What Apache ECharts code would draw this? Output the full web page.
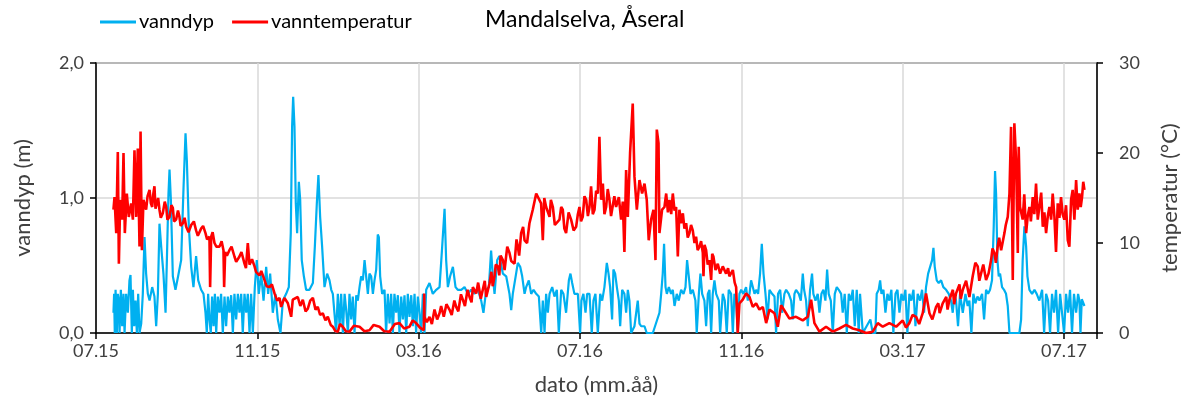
<!DOCTYPE html>
<html>
<head>
<meta charset="utf-8">
<script src="https://cdn.jsdelivr.net/npm/echarts@6/dist/echarts.min.js"></script>
<style>
  html, body { margin: 0; padding: 0; background: #fff; }
  #main { width: 1189px; height: 407px; }
</style>
</head>
<body>
<div id="main"></div>
<script>
// x = days since 01.07.2015
var tickLabels = ['07.15', '11.15', '03.16', '07.16', '11.16', '03.17', '07.17'];
var tickStep = 122;

// vanndyp (m)
var depthData = [
  [13.2,0.15],[13.7,0.29],[14.2,0],[14.8,0.32],[15.8,0],[16.5,0.29],[17.3,0.24],[17.8,0],[18.8,0.32],[19.8,0.05],
  [20.8,0.29],[21.6,0],[22.8,0.29],[24.1,0.15],[25.3,0.39],[26.1,0.43],[27.1,0],[27.9,0.32],[28.9,0.05],[29.9,0.24],
  [30.9,0],[31.9,0.29],[32.9,0],[34.2,0.07],[35.4,0.29],[36.7,0.71],[37.9,0.44],[39.2,0.29],[40.5,0.24],[42.5,0.34],
  [44.2,0.27],[45.5,0.05],[46.8,0.29],[48.0,0.81],[49.3,0.64],[51.0,0.44],[52.6,0.15],[53.6,0.54],[54.8,1.03],[55.6,1.21],
  [56.6,0.99],[58.1,0.42],[60.1,0.32],[62.1,0.42],[64.4,0.54],[66.2,1.08],[67.7,1.48],[68.7,1.28],[70.2,0.79],[72.0,0.49],
  [73.7,0.34],[75.7,0.57],[77.3,0.39],[79.5,0.32],[81.3,0.29],[82.8,0.15],[83.8,0],[84.8,0.29],[85.8,0.10],[86.8,0],
  [87.8,0.27],[88.9,0.05],[89.9,0.29],[90.9,0],[92.1,0.27],[93.4,0.15],[94.6,0.29],[95.9,0],[97.2,0.27],[98.4,0.05],
  [99.7,0.27],[100.9,0.15],[102.2,0.28],[103.5,0],[104.7,0.29],[106.0,0.10],[107.3,0.29],[108.5,0.15],[109.8,0.29],[111.0,0],
  [112.3,0.29],[113.6,0.15],[114.8,0.29],[116.1,0],[117.3,0.29],[118.6,0],[120.1,0.34],[121.6,0.54],[123.1,0.29],[124.9,0.44],
  [126.7,0.24],[128.7,0.49],[130.2,0.29],[131.7,0.44],[133.7,0.15],[135.7,0.29],[137.5,0.10],[139.5,0],[141.3,0.24],[143.8,0.29],
  [145.8,0.34],[147.3,0.74],[148.3,1.53],[149.1,1.75],[150.1,1.53],[151.1,0.96],[152.1,0.74],[153.4,1.12],[154.4,0.99],[155.6,0.54],
  [157.2,0.42],[158.9,0.32],[161.4,0.32],[164.0,0.37],[165.5,0.64],[167.0,0.96],[168.2,1.17],[169.5,0.86],[171.0,0.64],[172.8,0.34],
  [174.8,0.44],[176.6,0.39],[177.9,0.32],[179.1,0.29],[180.4,0.29],[181.6,0],[182.9,0.29],[184.2,0.05],[185.4,0.29],[186.7,0],
  [188.0,0.29],[189.2,0.17],[190.5,0],[191.7,0.29],[193.0,0.10],[194.2,0.27],[195.5,0],[196.8,0.28],[198.0,0.24],[199.3,0.34],
  [200.5,0.42],[201.8,0.39],[203.1,0.54],[204.3,0.54],[205.6,0.29],[206.8,0.44],[208.1,0.42],[209.4,0.29],[210.6,0.39],[211.9,0.47],
  [213.1,0.73],[213.9,0.71],[214.9,0.42],[216.4,0.29],[218.2,0.32],[219.4,0],[220.7,0.29],[222.0,0.07],[223.2,0.29],[224.5,0],
  [225.7,0.29],[227.0,0.15],[228.3,0.28],[229.5,0],[230.8,0.27],[232.1,0.10],[233.3,0.28],[234.6,0],[235.8,0.29],[237.1,0.12],
  [238.4,0.28],[239.6,0.05],[240.9,0.29],[242.1,0],[243.4,0.27],[244.7,0.15],[245.9,0],[247.2,0.29],[248.4,0],[249.7,0.32],
  [252.2,0.37],[254.7,0.29],[257.3,0.32],[259.8,0.34],[261.8,0.64],[263.6,0.92],[264.8,0.54],[266.1,0.34],[267.8,0.42],[269.9,0.49],
  [271.9,0.34],[273.6,0.32],[276.2,0.32],[278.7,0.34],[281.2,0.29],[283.7,0.32],[286.2,0.29],[288.8,0.32],[291.3,0.24],[293.0,0.15],
  [295.1,0.32],[297.1,0.34],[298.8,0.61],[300.1,0.42],[301.4,0.29],[303.4,0.54],[305.1,0.57],[307.7,0.44],[310.2,0.42],[312.7,0.29],
  [314.0,0.17],[315.2,0.29],[317.7,0.44],[319.0,0.52],[320.8,0.49],[322.3,0.42],[324.1,0.29],[325.3,0.34],[327.3,0.39],[329.1,0.29],
  [330.9,0.32],[332.9,0.29],[334.9,0.27],[336.7,0],[337.9,0.24],[339.2,0],[340.4,0.29],[341.7,0.15],[343.0,0.29],[345.0,0.34],
  [346.7,0.27],[348.5,0.32],[350.0,0],[351.8,0.32],[353.5,0.29],[355.5,0.15],[357.6,0.39],[358.8,0.44],[360.1,0.37],[361.8,0.29],
  [364.4,0.29],[366.1,0],[367.1,0.24],[368.6,0.29],[370.2,0.15],[371.4,0.29],[373.2,0.29],[374.9,0],[376.2,0.24],[377.7,0.29],
  [379.5,0],[381.3,0.29],[382.8,0.24],[384.5,0.34],[386.3,0.52],[387.6,0.44],[388.8,0.34],[390.3,0.10],[391.3,0.47],[392.6,0.44],
  [393.9,0.34],[395.4,0.24],[396.4,0.05],[397.9,0.32],[399.6,0.29],[400.9,0.15],[402.2,0.32],[403.4,0.24],[404.7,0],[407.2,0.05],
  [409.7,0.24],[411.0,0.07],[412.3,0.05],[414.8,0.05],[416.5,0],[421.1,0],[426.1,0.15],[427.4,0.29],[428.6,0.44],[429.6,0.66],
  [430.7,0.34],[431.7,0.29],[433.2,0.34],[434.9,0.29],[436.2,0.32],[437.5,0.20],[439.2,0.29],[440.7,0.24],[442.5,0.32],[444.3,0.29],
  [445.8,0.34],[447.0,0.54],[448.3,0.42],[449.6,0.29],[451.3,0.32],[453.3,0.24],[454.3,0],[455.9,0.29],[457.1,0.44],[458.4,0.29],
  [460.1,0.24],[461.4,0.05],[462.7,0.29],[463.9,0.32],[465.2,0],[466.4,0.29],[467.7,0.39],[469.0,0.29],[471.0,0.24],[472.0,0],
  [474.0,0.29],[475.5,0.24],[477.0,0],[478.5,0.32],[480.3,0.29],[481.6,0],[482.8,0.29],[484.1,0.24],[485.3,0],[486.6,0.29],
  [487.9,0.32],[489.6,0.29],[491.6,0.34],[492.9,0.24],[494.2,0.29],[495.4,0.39],[496.7,0.34],[498.0,0.29],[499.2,0.32],[500.7,0.29],
  [502.2,0.44],[503.5,0.66],[504.8,0.44],[506.3,0.29],[507.8,0.10],[509.3,0.32],[511.3,0.29],[513.1,0.27],[514.3,0],[515.8,0.29],
  [517.4,0.32],[518.9,0.15],[520.6,0.29],[521.9,0.32],[523.9,0.29],[525.7,0.24],[526.9,0.10],[528.2,0.29],[529.4,0.32],[531.5,0.29],
  [533.0,0.24],[534.5,0.44],[535.5,0.32],[537.0,0.24],[538.3,0.05],[540.0,0.32],[541.5,0.44],[542.5,0.29],[544.1,0.24],[545.8,0.29],
  [547.1,0.15],[548.6,0.29],[550.1,0.32],[551.6,0.24],[552.9,0.47],[554.1,0.29],[555.7,0.24],[557.2,0],[558.7,0.29],[560.2,0.34],
  [561.7,0.32],[563.5,0.29],[564.7,0.15],[566.2,0.29],[567.8,0],[569.3,0.29],[570.8,0.24],[572.3,0.32],[573.8,0.05],[575.3,0.32],
  [576.8,0],[577.8,0.29],[579.9,0],[585.6,0.10],[587.4,0],[589.4,0],[590.4,0.29],[591.9,0.32],[593.0,0.39],[594.0,0.29],
  [595.5,0.32],[597.0,0.15],[598.5,0.29],[600.0,0.24],[601.5,0.32],[603.0,0],[604.6,0.29],[606.1,0.32],[607.6,0.15],[609.1,0.29],
  [610.6,0.24],[612.1,0.32],[613.6,0],[615.1,0.29],[616.6,0.24],[618.2,0.32],[619.7,0.05],[621.4,0.29],[623.2,0.24],[624.7,0.32],
  [626.2,0.15],[627.7,0.34],[629.3,0.44],[630.8,0.44],[632.3,0.54],[633.3,0.63],[634.3,0.49],[635.8,0.39],[637.3,0.37],[639.1,0.39],
  [640.8,0.34],[642.9,0.32],[644.9,0.29],[646.6,0.24],[647.9,0.15],[649.2,0.29],[650.4,0.24],[651.9,0.05],[653.4,0.29],[655.5,0.15],
  [657.5,0.29],[659.2,0.20],[660.5,0.24],[662.0,0],[663.5,0.29],[665.0,0.22],[666.6,0.27],[668.1,0.24],[670.1,0.29],[671.6,0.10],
  [673.1,0.32],[674.6,0.29],[676.1,0.32],[677.6,0.39],[678.9,0.79],[679.9,1.20],[680.7,1.03],[681.7,0.54],[682.7,0.42],[683.7,0.44],
  [685.2,0.34],[686.7,0.32],[688.2,0.29],[689.5,0.20],[690.8,0],[698.3,0],[699.6,0.10],[700.8,0.54],[702.1,0.79],[703.4,0.64],
  [704.4,0.42],[705.9,0.32],[707.9,0.29],[709.7,0.32],[711.4,0.29],[713.4,0.24],[715.5,0.32],[717.0,0],[718.5,0.29],[720.0,0.24],
  [721.5,0],[723.0,0.29],[724.5,0.15],[726.0,0.32],[727.6,0],[729.1,0.29],[730.6,0.29],[732.1,0],[733.6,0.29],[735.1,0.15],
  [736.6,0.32],[738.1,0],[739.6,0.29],[741.2,0.15],[742.7,0.29],[743.7,0.24],[744.5,0],[745.5,0.25],[747.5,0.2]
];

// vanntemperatur (°C)
var tempData = [
  [13.2,13.7],[14.0,15.1],[15.3,11.1],[16.5,20.1],[17.3,7.7],[18.3,14.8],[19.8,12.6],[20.8,20.0],[21.8,11.1],[23.3,15.5],
  [24.8,12.9],[26.6,14.4],[27.9,12.6],[29.1,20.3],[30.4,12.9],[31.6,20.5],[32.9,9.6],[33.7,22.4],[34.7,9.2],[35.9,14.8],
  [37.9,13.7],[39.0,15.2],[40.5,15.9],[41.5,14.4],[42.5,14.0],[43.2,15.3],[44.2,16.3],[45.0,13.8],[46.0,14.0],[47.0,15.0],
  [48.0,13.7],[49.0,12.8],[50.5,13.3],[52.0,14.6],[53.1,14.0],[54.0,12.6],[55.6,12.9],[57.0,14.2],[58.1,13.9],[59.0,12.4],
  [60.6,12.6],[62.0,13.6],[63.1,12.9],[64.0,11.9],[65.7,12.2],[67.0,12.8],[68.2,11.8],[70.0,11.2],[72.0,12.0],[74.0,12.4],
  [75.7,11.4],[77.0,10.8],[79.5,11.6],[81.0,11.9],[82.8,11.1],[84.0,10.4],[85.8,10.7],[86.3,5.1],[87.1,10.7],[88.2,11.2],
  [89.6,10.0],[91.0,9.6],[93.4,9.6],[95.0,10.2],[96.4,9.2],[96.9,5.1],[97.7,9.0],[99.0,8.6],[100.9,9.2],[102.5,9.6],
  [104.7,8.5],[106.0,7.9],[108.5,8.5],[110.0,9.0],[112.3,7.7],[113.4,7.2],[114.8,10.0],[116.1,7.6],[118.0,8.2],[119.9,7.4],
  [121.0,6.8],[123.6,6.4],[125.0,6.9],[127.4,5.9],[129.0,5.2],[131.2,5.1],[133.0,5.4],[135.0,4.4],[137.0,3.6],[138.8,3.9],
  [140.0,2.9],[142.5,3.9],[145.1,3.3],[147.6,1.8],[148.8,3.7],[152.6,4.0],[154.5,3.0],[156.4,3.7],[158.5,2.4],[160.2,2.7],
  [162.0,3.6],[164.0,3.9],[166.0,2.6],[167.7,2.9],[169.5,2.0],[171.5,2.2],[173.5,1.4],[175.3,1.8],[177.5,0.9],[179.1,0.7],
  [181.0,0.2],[182.9,0.15],[184.5,1.0],[186.6,0.7],[189.0,0.2],[191.7,0.15],[195.0,0.8],[199.3,0.7],[203.0,0.2],[206.8,0.3],
  [210.0,0.9],[214.4,0.7],[218.0,0.2],[222.0,0.15],[226.0,1.0],[229.5,1.1],[233.0,0.5],[237.1,0.7],[239.5,1.4],[242.1,1.1],
  [245.0,0.6],[247.9,0.3],[248.2,4.4],[248.4,1.8],[250.2,1.2],[252.2,1.8],[254.0,1.0],[256.0,2.6],[258.0,1.5],[259.8,2.2],
  [261.0,3.0],[263.0,1.8],[265.0,3.2],[267.3,2.6],[269.0,2.0],[271.0,3.6],[272.4,2.9],[274.0,2.4],[276.0,4.3],[277.4,3.7],
  [279.0,3.0],[281.0,4.8],[282.5,4.0],[284.0,3.4],[285.0,5.1],[287.5,4.4],[289.0,5.6],[291.0,3.8],[292.5,4.8],[294.0,5.8],
  [295.1,4.0],[297.6,5.5],[299.0,6.8],[300.0,5.2],[301.4,6.3],[302.3,7.6],[303.9,7.4],[305.0,6.4],[306.0,8.6],[307.7,8.1],
  [309.0,7.0],[311.0,9.6],[312.7,8.9],[314.0,8.0],[316.5,7.7],[318.0,10.4],[319.0,9.6],[320.0,8.6],[321.5,11.1],[323.0,11.8],
  [324.1,10.3],[326.0,10.0],[327.8,12.2],[330.3,13.7],[332.9,15.5],[334.1,15.7],[336.6,14.4],[337.9,10.3],[339.0,15.0],[340.4,14.0],
  [343.0,12.9],[344.0,14.8],[345.5,14.0],[347.0,12.0],[348.0,11.8],[350.5,12.6],[351.8,14.0],[353.0,13.7],[354.2,11.6],[355.5,11.1],
  [357.4,13.4],[359.3,12.6],[361.2,11.4],[363.1,11.8],[364.4,13.2],[365.6,14.0],[366.8,12.4],[368.1,12.9],[369.4,15.2],[370.7,14.8],
  [372.0,13.0],[373.2,14.0],[374.4,16.3],[375.7,13.2],[377.0,13.7],[378.2,15.8],[379.5,15.5],[380.7,21.8],[382.0,14.8],[383.3,16.6],
  [384.5,13.2],[385.8,14.0],[387.0,16.0],[388.3,14.8],[389.5,13.0],[390.8,12.9],[392.0,15.2],[393.3,14.0],[395.4,15.1],[397.1,12.6],
  [398.4,14.6],[399.6,9.0],[400.9,18.1],[402.2,12.9],[403.9,20.0],[405.9,25.5],[407.2,17.4],[409.0,13.7],[411.0,17.0],[413.0,15.5],
  [414.8,16.6],[416.5,14.8],[418.0,10.3],[419.8,12.6],[421.6,13.7],[423.1,8.1],[424.1,22.6],[425.4,21.1],[426.1,11.1],[428.1,13.7],
  [429.9,14.0],[431.2,15.5],[432.5,13.4],[433.7,14.8],[435.0,13.2],[436.2,15.5],[437.5,13.6],[438.7,14.0],[440.0,8.5],[441.2,13.7],
  [442.5,12.2],[443.8,13.3],[445.0,11.6],[446.3,12.2],[447.5,10.6],[448.8,11.1],[450.0,12.0],[451.3,11.4],[452.6,10.0],[453.8,10.7],
  [455.0,9.2],[456.4,9.6],[457.6,10.2],[458.9,8.9],[459.4,6.3],[460.2,9.8],[461.4,9.2],[462.6,7.6],[463.9,8.1],[465.2,5.9],
  [466.0,8.8],[466.9,8.5],[468.5,7.0],[470.2,7.7],[472.0,6.6],[474.0,7.4],[476.5,6.6],[478.0,7.2],[479.0,6.3],[481.6,7.0],
  [483.0,5.6],[484.1,5.1],[485.3,0],[486.6,3.3],[489.1,3.7],[491.6,4.4],[494.2,4.0],[496.7,2.9],[499.2,3.3],[501.7,2.6],
  [504.3,2.9],[506.8,1.1],[509.3,2.6],[513.1,2.2],[515.6,0.7],[518.1,3.1],[521.9,2.2],[524.4,1.6],[529.4,1.8],[534.5,1.4],
  [538.3,1.8],[540.8,3.7],[543.3,1.1],[547.1,0.15],[552.1,0.7],[557.2,0.15],[562.2,0.5],[567.2,0.9],[572.3,0.5],[577.3,0.3],
  [582.4,0],[587.4,0.15],[591.2,1.1],[595.0,0.7],[600.0,1.1],[605.1,0.7],[610.1,1.4],[612.5,0.6],[615.1,1.1],[617.5,2.0],
  [620.2,1.8],[622.5,1.0],[625.2,2.2],[627.7,4.4],[630.3,2.2],[632.5,1.5],[635.3,2.9],[637.0,3.3],[638.0,2.2],[640.3,3.3],
  [643.0,4.0],[644.0,2.6],[645.4,3.7],[648.0,4.8],[649.0,3.2],[650.4,4.4],[653.0,5.4],[654.0,3.8],[655.5,4.8],[658.0,5.8],
  [660.5,4.0],[663.0,6.3],[665.0,7.8],[666.8,7.4],[668.0,5.8],[669.3,6.6],[671.0,7.6],[673.1,5.9],[675.0,6.6],[676.9,8.1],
  [678.0,9.4],[679.4,8.9],[680.5,7.8],[681.9,9.6],[683.0,10.6],[684.5,9.2],[686.0,9.0],[687.0,11.1],[688.0,12.0],[689.5,12.9],
  [690.8,15.5],[692.0,22.9],[693.3,5.9],[694.5,23.3],[695.8,19.2],[697.1,8.9],[697.8,20.7],[698.8,14.0],[700.8,12.6],[702.0,15.4],
  [703.4,11.1],[704.6,13.0],[705.9,14.0],[707.0,12.4],[708.4,15.1],[709.6,13.2],[710.9,16.6],[712.2,12.6],[713.4,14.0],[714.8,15.6],
  [716.0,11.8],[717.2,13.4],[718.5,11.1],[719.8,13.0],[721.0,14.0],[722.3,12.6],[723.5,15.5],[724.8,12.9],[726.0,9.0],[727.3,14.4],
  [728.6,12.8],[729.8,15.1],[731.0,13.2],[732.3,12.6],[733.6,14.2],[734.9,10.3],[736.1,9.6],[737.4,14.8],[738.6,15.9],[739.9,12.6],
  [741.2,17.0],[742.4,13.7],[743.7,15.5],[744.7,14.0],[745.7,15.1],[746.6,16.8],[747.5,15.9]
];

var chartDom = document.getElementById('main');
var myChart = echarts.init(chartDom);
var option;

var textColor = '#404040';
var fontFamily = 'Lato';

option = {
    animation: false,
    textStyle: { fontFamily: fontFamily },
    title: {
        text: 'Mandalselva, Åseral',
        left: 485,
        top: 8,
        padding: 0,
        textStyle: { fontFamily: fontFamily, fontSize: 23, fontWeight: 'normal', color: '#000' }
    },
    legend: {
        left: 100,
        top: 12,
        padding: 0,
        icon: 'rect',
        itemWidth: 36,
        itemHeight: 3,
        itemGap: 18,
        textStyle: { fontFamily: fontFamily, fontSize: 20, color: '#000', padding: [0, 0, 0, -2] },
        data: ['vanndyp', 'vanntemperatur']
    },
    grid: {
        left: 96,
        right: 92,
        top: 63,
        bottom: 74,
        show: true,
        borderColor: '#222',
        borderWidth: 1.5,
        containLabel: false
    },
    xAxis: {
        type: 'value',
        min: 0,
        max: 757,
        interval: tickStep,
        name: 'dato (mm.åå)',
        nameLocation: 'middle',
        nameGap: 41,
        nameTextStyle: { fontFamily: fontFamily, fontSize: 22, color: textColor },
        axisLine: { lineStyle: { color: '#000', width: 1.5 } },
        axisTick: { show: true, length: 6, lineStyle: { color: '#000', width: 1.5 } },
        axisLabel: {
            fontFamily: fontFamily,
            fontSize: 18,
            color: textColor,
            margin: 9,
            formatter: function (v) {
                return v % tickStep === 0 ? tickLabels[v / tickStep] : '';
            }
        },
        splitLine: { show: true, lineStyle: { color: '#d9d9d9', width: 1.5 } }
    },
    yAxis: [
        {
            type: 'value',
            min: 0,
            max: 2,
            interval: 1,
            name: 'vanndyp (m)',
            nameLocation: 'middle',
            nameGap: 62,
            nameTextStyle: { fontFamily: fontFamily, fontSize: 22, color: textColor },
            axisLine: { show: true, lineStyle: { color: '#000', width: 1.5 } },
            axisTick: { show: true, length: 6, lineStyle: { color: '#000', width: 1.5 } },
            axisLabel: {
                fontFamily: fontFamily,
                fontSize: 18,
                color: textColor,
                margin: 12,
                formatter: function (v) { return v.toFixed(1).replace('.', ','); }
            },
            splitLine: { show: true, lineStyle: { color: '#d9d9d9', width: 1.5 } }
        },
        {
            type: 'value',
            min: 0,
            max: 30,
            interval: 10,
            position: 'right',
            name: 'temperatur (°C)',
            nameLocation: 'middle',
            nameGap: 62,
            nameTextStyle: { fontFamily: fontFamily, fontSize: 22, color: textColor },
            axisLine: { show: true, lineStyle: { color: '#000', width: 1.5 } },
            axisTick: { show: true, length: 6, lineStyle: { color: '#000', width: 1.5 } },
            axisLabel: { fontFamily: fontFamily, fontSize: 18, color: textColor, margin: 22 },
            splitLine: { show: false }
        }
    ],
    series: [
        {
            name: 'vanndyp',
            type: 'line',
            yAxisIndex: 0,
            symbol: 'none',
            color: '#00b0f0',
            lineStyle: { width: 2.2, color: '#00b0f0' },
            data: depthData
        },
        {
            name: 'vanntemperatur',
            type: 'line',
            yAxisIndex: 1,
            symbol: 'none',
            color: '#ff0000',
            lineStyle: { width: 2.6, color: '#ff0000' },
            data: tempData
        }
    ]
};

option && myChart.setOption(option);
</script>
</body>
</html>
